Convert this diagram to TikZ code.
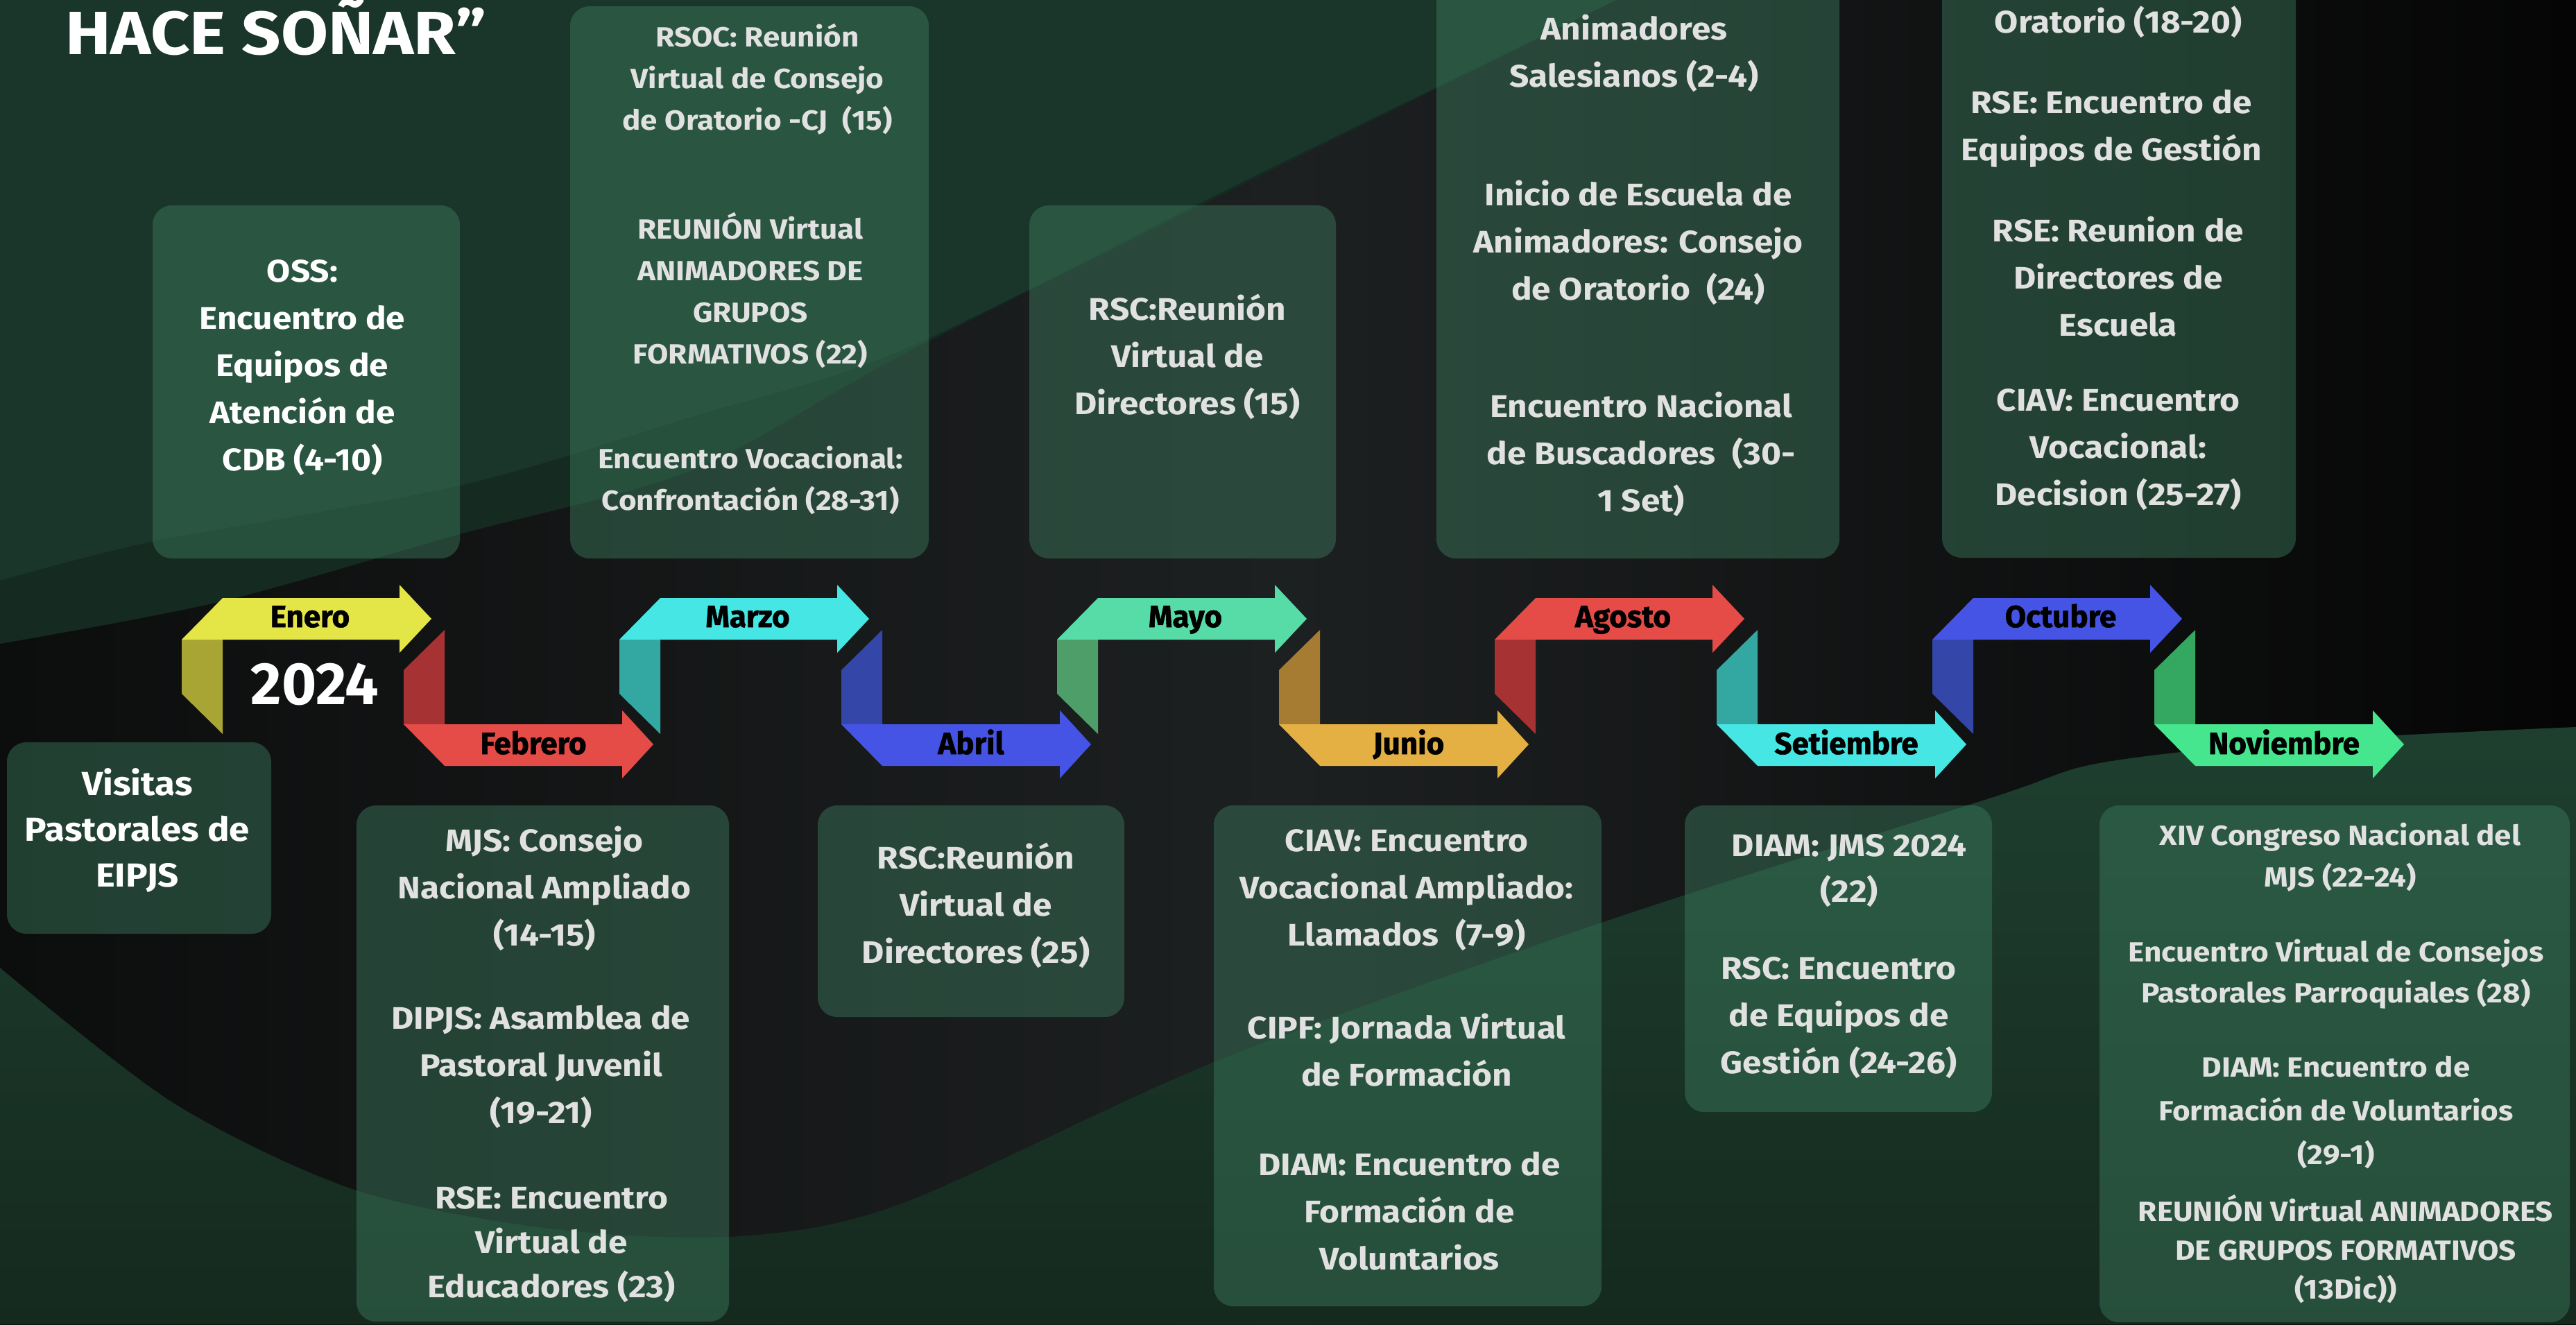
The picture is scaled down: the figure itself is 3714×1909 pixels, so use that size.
\documentclass[tikz,border=0pt]{standalone}
\usepackage{fontspec}
\setmainfont{Fira Sans}
\newfontfamily\evfont{Fira Sans}[FakeStretch=1.1]
\newfontfamily\ttlfont{Fira Sans}[FakeStretch=1.12]
\newfontfamily\monfont{Fira Sans}[BoldFeatures={FakeBold=1.3}]
\definecolor{bgL}{HTML}{0C0D0D}
\definecolor{bgM}{HTML}{1D2021}
\definecolor{bgR}{HTML}{050505}
\definecolor{gA}{HTML}{152A20}
\definecolor{gB}{HTML}{1A3529}
\definecolor{gBot}{HTML}{1E3F2F}
\definecolor{gBotD}{HTML}{15291F}
\definecolor{boxc}{HTML}{3C7D5F}
\definecolor{txtg}{HTML}{E1E1E1}
\definecolor{yel}{HTML}{E3E646}\definecolor{yelD}{HTML}{A8A535}
\definecolor{red}{HTML}{E54B47}\definecolor{redD}{HTML}{A73234}
\definecolor{cya}{HTML}{46E6E4}\definecolor{cyaD}{HTML}{33A8A2}
\definecolor{blu}{HTML}{4654E6}\definecolor{bluD}{HTML}{3446A8}
\definecolor{mnt}{HTML}{57DCA8}\definecolor{mntD}{HTML}{4E9E6A}
\definecolor{amb}{HTML}{E4B044}\definecolor{ambD}{HTML}{A67C32}
\definecolor{grn}{HTML}{46E68E}\definecolor{grnD}{HTML}{34A860}
\newcommand\evl[6]{%
  \foreach \txt [count=\k from 0] in {#6}{%
    \node[#2, anchor=base] (#1\k) at (#3, #4+\k*#5) {\txt};}}
\newcommand\ribpair[7]{%
  \fill[#3] (#1,922) -- (#1+59,922) -- (#1+59,1058) -- (#1,1000) -- cycle;
  \fill[#2] (#1,922) -- (#1+59,862) -- (#1+314,862) -- (#1+314,843) -- (#1+360,892) -- (#1+314,941) -- (#1+314,922) -- cycle;
  \fill[#5] (#1+320,966) -- (#1+379,908) -- (#1+379,1044) -- (#1+320,1044) -- cycle;
  \fill[#4] (#1+320,1044) -- (#1+635,1044) -- (#1+635,1024) -- (#1+680,1073) -- (#1+635,1122) -- (#1+635,1104) -- (#1+379,1104) -- cycle;
  \node[mon, anchor=base] (lab#6) at (#1+185,904) {#6};
  \node[mon, anchor=base] (lab#7) at (#1+507,1087) {#7};}
\begin{document}
\begin{tikzpicture}[x=1pt,y=-1pt,
  evbox/.style={fill=boxc, fill opacity=0.45, rounded corners=28pt, inner sep=0pt, draw=none},
  evw/.style={text=white, font=\evfont\bfseries\fontsize{45}{68}\selectfont, inner sep=0pt},
  evg/.style={text=txtg, font=\evfont\bfseries\fontsize{45}{68}\selectfont, inner sep=0pt},
  evs/.style={text=txtg, font=\evfont\bfseries\fontsize{40}{60}\selectfont, inner sep=0pt},
  vis/.style={text=white, font=\evfont\bfseries\fontsize{48}{66}\selectfont, inner sep=0pt},
  mon/.style={text=black, font=\monfont\bfseries\fontsize{44}{50}\selectfont, inner sep=0pt}]
\useasboundingbox (0,0) rectangle (3714,1909);
\clip (0,0) rectangle (3714,1909);
% background
\shade[left color=bgL, right color=bgR, middle color=bgM] (0,0) rectangle (3714,1909);
\fill[gA] (0,0) -- (2330,0) -- plot[smooth] coordinates {(2330,0) (1800,262) (1300,512) (1000,677) (663,770) (319,867) (0,928)} -- cycle;
\fill[gB] (0,0) -- (2330,0) -- plot[smooth] coordinates {(2330,0) (1800,258) (1300,505) (1000,600) (663,700) (223,780) (0,837)} -- cycle;
\shade[top color=gBot, bottom color=gBotD] (0,1395) -- plot[smooth] coordinates {(0,1395) (250,1590) (514,1716) (800,1772) (1066,1782) (1300,1735) (1753,1530) (2309,1330) (2871,1150) (3027,1100) (3316,1068) (3714,1048)} -- (3714,1909) -- (0,1909) -- cycle;
% boxes
\node[evbox, minimum width=443pt, minimum height=509pt] (bOSS) at (441.5,550.5) {};
\node[evbox, minimum width=517pt, minimum height=796pt] (bRSOC) at (1080.5,407) {};
\node[evbox, minimum width=442pt, minimum height=509pt] (bRSCa) at (1705,550.5) {};
\node[evbox, minimum width=581pt, minimum height=865pt] (bANI) at (2361.5,372.5) {};
\node[evbox, minimum width=510pt, minimum height=864pt] (bORA) at (3055,372) {};
\node[evbox, minimum width=381pt, minimum height=276pt] (bVIS) at (200.5,1208) {};
\node[evbox, minimum width=537pt, minimum height=744pt] (bMJS) at (782.5,1533) {};
\node[evbox, minimum width=442pt, minimum height=305pt] (bRSCb) at (1400,1313.5) {};
\node[evbox, minimum width=559pt, minimum height=722pt] (bCIAV) at (2029.5,1522) {};
\node[evbox, minimum width=443pt, minimum height=442pt] (bDIAM) at (2650.5,1382) {};
\node[evbox, minimum width=678pt, minimum height=745pt] (bXIV) at (3366,1533.5) {};
% title
\node[anchor=base west, text=white, font=\ttlfont\bfseries\fontsize{88}{96}\selectfont, inner sep=0pt] (title) at (94,78) {HACE SOÑAR”};
% ribbon
\ribpair{262}{yel}{yelD}{red}{redD}{Enero}{Febrero}
\ribpair{893}{cya}{cyaD}{blu}{bluD}{Marzo}{Abril}
\ribpair{1524}{mnt}{mntD}{amb}{ambD}{Mayo}{Junio}
\ribpair{2155}{red}{redD}{cya}{cyaD}{Agosto}{Setiembre}
\ribpair{2786}{blu}{bluD}{grn}{grnD}{Octubre}{Noviembre}
\node[anchor=base, text=white, font=\bfseries\fontsize{86}{90}\selectfont, inner sep=0pt] (year) at (454,1015) {2024};
% texts
\evl{oss}{evw}{436}{406}{68}{OSS:,Encuentro de,Equipos de,Atención de,CDB (4-10)}
\evl{rsoca}{evs}{1092}{67}{60}{RSOC: Reunión,Virtual de Consejo,de Oratorio -CJ~ (15)}
\evl{rsocb}{evs}{1082}{344}{60}{REUNIÓN Virtual,ANIMADORES DE,GRUPOS,FORMATIVOS (22)}
\evl{rsocc}{evs}{1082}{675}{60}{Encuentro Vocacional:,Confrontación (28-31)}
\evl{rsca}{evg}{1712}{461}{68}{RSC:Reunión,Virtual de,Directores (15)}
\evl{ania}{evg}{2356}{57}{68}{Animadores,Salesianos (2-4)}
\evl{anib}{evg}{2362}{296}{68}{Inicio de Escuela de,Animadores: Consejo,de Oratorio~ (24)}
\evl{anic}{evg}{2366}{601}{68}{Encuentro Nacional,de Buscadores~ (30-,1 Set)}
\evl{oraa}{evg}{3054}{47}{68}{Oratorio (18-20)}
\evl{orab}{evg}{3044}{163}{68}{RSE: Encuentro de,Equipos de Gestión}
\evl{orac}{evg}{3054}{348}{68}{RSE: Reunion de,Directores de,Escuela}
\evl{orad}{evg}{3054}{592}{68}{CIAV: Encuentro,Vocacional:,Decision (25-27)}
\evl{vis}{vis}{198}{1146}{66}{Visitas,Pastorales de,EIPJS}
\evl{mjsa}{evg}{785}{1227}{68}{MJS: Consejo,Nacional Ampliado,(14-15)}
\evl{mjsb}{evg}{780}{1483}{68}{DIPJS: Asamblea de,Pastoral Juvenil,(19-21)}
\evl{mjsc}{evg}{795}{1742}{64}{RSE: Encuentro,Virtual de,Educadores (23)}
\evl{rscb}{evg}{1407}{1252}{68}{RSC:Reunión,Virtual de,Directores (25)}
\evl{ciava}{evg}{2028}{1227}{68}{CIAV: Encuentro,Vocacional Ampliado:,Llamados~ (7-9)}
\evl{ciavb}{evg}{2028}{1497}{68}{CIPF: Jornada Virtual,de Formación}
\evl{ciavc}{evg}{2032}{1694}{68}{DIAM: Encuentro de,Formación de,Voluntarios}
\evl{diama}{evg}{2666}{1234}{66}{DIAM: JMS 2024,(22)}
\evl{diamb}{evg}{2651}{1411}{68}{RSC: Encuentro,de Equipos de,Gestión (24-26)}
\evl{xiva}{evs}{3374}{1218}{60}{XIV Congreso Nacional del,MJS (22-24)}
\evl{xivb}{evs}{3368}{1386}{59}{Encuentro Virtual de Consejos,Pastorales Parroquiales (28)}
\evl{xivc}{evs}{3368}{1552}{63}{DIAM: Encuentro de,Formación de Voluntarios,(29-1)}
\evl{xivd}{evs}{3382}{1760}{56}{REUNIÓN Virtual ANIMADORES,DE GRUPOS FORMATIVOS,(13Dic))}
\end{tikzpicture}
\end{document}
